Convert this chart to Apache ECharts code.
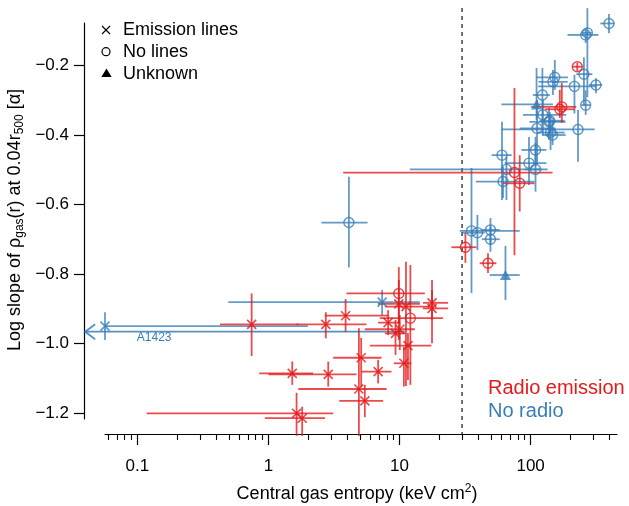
<!DOCTYPE html>
<html><head><meta charset="utf-8">
<script src="https://cdn.jsdelivr.net/npm/echarts@6/dist/echarts.min.js"></script>
<style>html,body{margin:0;padding:0;background:#fff}#chart{width:629px;height:506px}</style>
</head><body><div id="chart"></div>
<script>
// ---- DATA ----
// columns: entropy, entropyLow, entropyHigh, slope, slopeLow, slopeHigh
const linesRadio = [
  [9.88, 6.83, 14.3, -0.886, -0.990, -0.817],
  [11.2, 7.73, 17.0, -0.894, -1.122, -0.765],
  [17.7, 15.1, 23.5, -0.883, -0.999, -0.817],
  [17.7, 15.1, 23.5, -0.899, -0.932, -0.846],
  [3.88, 2.70, 8.19, -0.920, -0.966, -0.872],
  [2.74, 1.64, 5.60, -0.945, -0.985, -0.910],
  [8.19, 6.87, 10.05, -0.940, -0.976, -0.904],
  [10.05, 5.44, 13.1, -0.959, -1.019, -0.918],
  [9.32, 7.73, 11.0, -0.971, -1.033, -0.932],
  [11.6, 5.94, 17.5, -1.006, -1.105, -0.970],
  [10.8, 9.05, 12.3, -1.057, -1.124, -1.009],
  [5.10, 3.12, 7.29, -1.041, -1.125, -0.984],
  [6.87, 5.13, 8.69, -1.081, -1.115, -1.047],
  [2.86, 1.00, 4.70, -1.089, -1.124, -1.052],
  [4.90, 1.69, 7.96, -1.131, -1.266, -0.956],
  [5.44, 3.47, 7.50, -1.165, -1.212, -1.119],
  [0.745, 0.427, 1.69, -0.945, -1.036, -0.856],
  [1.52, 0.851, 2.19, -1.086, -1.119, -1.052],
  [1.64, 0.118, 3.12, -1.201, -1.266, -1.142],
  [1.81, 0.94, 2.70, -1.215, -1.266, -1.182]
];
const linesNoRadio = [
  [7.37, 0.494, 14.3, -0.881, -0.918, -0.846],
  [0.0567, 0.0567, 2.0, -0.950, -0.990, -0.910]   // A1423
];
const noLinesRadio = [
  [227, 208, 247, -0.2035, -0.216, -0.192],
  [173, 101, 223, -0.319, -0.365, -0.250],
  [167, 128, 217, -0.326, -0.351, -0.270],
  [75.3, 3.72, 147, -0.508, -0.746, -0.265],
  [82.6, 61.6, 107, -0.539, -0.620, -0.458],
  [31.8, 24.9, 38.6, -0.723, -0.768, -0.682],
  [47.3, 40.9, 54.8, -0.769, -0.797, -0.740],
  [9.88, 3.94, 15.6, -0.856, -0.940, -0.780],
  [12.1, 7.08, 21.5, -0.927, -1.119, -0.774]
];
const noLinesNoRadio = [
  [396, 340, 437, -0.079, -0.107, -0.052],
  [263, 191, 329, -0.112, -0.135, -0.092],
  [271, 245, 292, -0.106, -0.291, -0.035],
  [255, 223, 296, -0.225, -0.314, -0.176],
  [315, 279, 352, -0.256, -0.280, -0.237],
  [216, 114, 318, -0.260, -0.338, -0.227],
  [148, 115, 192, -0.247, -0.285, -0.213],
  [153, 111, 193, -0.234, -0.270, -0.184],
  [123, 104, 140, -0.285, -0.371, -0.207],
  [263, 244, 286, -0.314, -0.342, -0.271],
  [124, 87.5, 187, -0.342, -0.400, -0.299],
  [138, 98, 185, -0.362, -0.414, -0.322],
  [140, 117, 182, -0.359, -0.400, -0.334],
  [112, 82.6, 155, -0.381, -0.486, -0.299],
  [142, 113, 182, -0.393, -0.443, -0.342],
  [147, 122, 185, -0.400, -0.429, -0.357],
  [230, 59.9, 308, -0.384, -0.477, -0.328],
  [109, 85, 132, -0.443, -0.491, -0.405],
  [60.5, 50.5, 71.8, -0.458, -0.587, -0.362],
  [97.2, 63.5, 132, -0.481, -0.544, -0.406],
  [109, 90, 135, -0.499, -0.563, -0.423],
  [65.4, 12.0, 121, -0.499, -0.587, -0.462],
  [61.6, 38.2, 107, -0.534, -0.581, -0.491],
  [35.4, 28.8, 82.6, -0.676, -0.855, -0.495],
  [39.3, 30.4, 44.7, -0.681, -0.731, -0.630],
  [49.4, 42.4, 58.1, -0.673, -0.717, -0.639],
  [49.4, 42.4, 58.1, -0.700, -0.736, -0.659],
  [4.11, 2.54, 5.70, -0.652, -0.781, -0.520]
];
const unknownNoRadio = [
  [111, 59.9, 148, -0.312, -0.357, -0.207],
  [64.3, 48.8, 82.6, -0.803, -0.875, -0.719]
];
// A1423 upper-limit arrow: entropy from, entropy to (arrow tip), slope
const a1423Limit = [11.0, 0.04, -0.966];
const entropyThreshold = 30;
const xMajorTicks = [0.1, 1, 10, 100];
const xMajorLabels = ['0.1', '1', '10', '100'];
const xMinorTicks = [0.06, 0.07, 0.08, 0.09, 0.2, 0.3, 0.4, 0.5, 0.6, 0.7, 0.8, 0.9,
  2, 3, 4, 5, 6, 7, 8, 9, 20, 30, 40, 50, 60, 70, 80, 90, 200, 300, 400];
const yTicks = [-1.2, -1.0, -0.8, -0.6, -0.4, -0.2];
const xRange = [0.0567, 456];
const yRange = [-1.2173, -0.0777];

// ---- CHART ----
const FONT = '"Liberation Sans", Arial, sans-serif';
const RED = '#e41a1c', BLUE = '#377eb8';
const lg = Math.log10;
const chart = echarts.init(document.getElementById('chart'), null, {renderer: 'canvas'});
const GRID = {left: 105, right: 12, top: 23, bottom: 87};

function errSeries(rows, color) {
  return {
    type: 'custom', xAxisIndex: 0, yAxisIndex: 0, clip: false, silent: true, z: 2,
    data: rows.map(r => [lg(r[0]), lg(r[1]), lg(r[2]), r[3], r[4], r[5]]),
    encode: {x: [0, 1, 2], y: [3, 4, 5]},
    renderItem(params, api) {
      const c = api.coord([api.value(0), api.value(3)]);
      const x1 = api.coord([api.value(1), api.value(3)])[0];
      const x2 = api.coord([api.value(2), api.value(3)])[0];
      const y1 = api.coord([api.value(0), api.value(4)])[1];
      const y2 = api.coord([api.value(0), api.value(5)])[1];
      const style = {stroke: color, lineWidth: 1.8, opacity: 0.78};
      return {type: 'group', children: [
        {type: 'line', shape: {x1: x1, y1: c[1], x2: x2, y2: c[1]}, style: style},
        {type: 'line', shape: {x1: c[0], y1: y1, x2: c[0], y2: y2}, style: style}
      ]};
    }
  };
}
const CROSS = 'path://M0 0L10 10M10 0L0 10';
function markSeries(rows, color, kind) {
  const s = {
    type: 'scatter', silent: true, z: 5,
    data: rows.map(r => [lg(r[0]), r[3]]),
    symbolSize: 9
  };
  if (kind === 'cross') {
    s.symbol = CROSS; s.symbolSize = 9;
    s.itemStyle = {color: 'rgba(0,0,0,0)', borderColor: color, borderWidth: 1.6};
  } else if (kind === 'circle') {
    s.symbol = 'circle'; s.symbolSize = 10;
    s.itemStyle = {color: 'rgba(0,0,0,0)', borderColor: color, borderWidth: 1.4};
  } else {
    s.symbol = 'triangle'; s.symbolSize = [11, 10];
    s.itemStyle = {color: color};
  }
  return s;
}

const tickText = {fontFamily: FONT, fontSize: 17, color: '#000'};
const option = {
  animation: false,
  backgroundColor: '#fff',
  grid: [Object.assign({}, GRID), Object.assign({}, GRID)],
  xAxis: [{
    type: 'value', gridIndex: 0, min: lg(xRange[0]), max: lg(xRange[1]), offset: 15,
    axisLine: {show: true, onZero: false, lineStyle: {color: '#000', width: 1.2}},
    axisTick: {show: true, length: 11, customValues: xMajorTicks.map(lg), lineStyle: {color: '#000', width: 1.2}},
    axisLabel: Object.assign({
      customValues: xMajorTicks.map(lg), margin: 24,
      formatter: v => { const i = xMajorTicks.findIndex(t => Math.abs(lg(t) - v) < 1e-6); return i >= 0 ? xMajorLabels[i] : ''; }
    }, tickText),
    splitLine: {show: false}
  }, {
    type: 'value', gridIndex: 1, min: lg(xRange[0]), max: lg(xRange[1]), offset: 15,
    axisLine: {show: false, onZero: false},
    axisTick: {show: true, length: 6, customValues: xMinorTicks.map(lg), lineStyle: {color: '#000', width: 1.1}},
    axisLabel: {show: false}, splitLine: {show: false}
  }],
  yAxis: [{
    type: 'value', gridIndex: 0, min: yRange[0], max: yRange[1], offset: 21,
    axisLine: {show: true, onZero: false, lineStyle: {color: '#000', width: 1.2}},
    axisTick: {show: true, length: 10, customValues: yTicks, lineStyle: {color: '#000', width: 1.2}},
    axisLabel: Object.assign({
      customValues: yTicks, margin: 15,
      formatter: v => (v < 0 ? '\u2212' : '') + Math.abs(v).toFixed(1)
    }, tickText),
    splitLine: {show: false}
  }, {
    type: 'value', gridIndex: 1, min: yRange[0], max: yRange[1], show: false
  }],
  series: [
    {
      type: 'custom', clip: false, silent: true, z: 1,
      data: [[lg(entropyThreshold), -0.6]], encode: {x: 0, y: 1},
      renderItem(params, api) {
        const cs = params.coordSys;
        const x = api.coord([api.value(0), api.value(1)])[0];
        return {type: 'line', shape: {x1: x, y1: cs.y - 15, x2: x, y2: cs.y + cs.height + 15},
          style: {stroke: '#333', lineWidth: 1.4, lineDash: [4, 4]}};
      }
    },
    errSeries(noLinesNoRadio, BLUE),
    errSeries(unknownNoRadio, BLUE),
    errSeries(linesNoRadio, BLUE),
    {
      type: 'custom', clip: false, silent: true, z: 2,
      data: [[lg(a1423Limit[0]), lg(a1423Limit[1]), a1423Limit[2]]], encode: {x: [0, 1], y: 2},
      renderItem(params, api) {
        const from = api.coord([api.value(0), api.value(2)]);
        const tip = api.coord([api.value(1), api.value(2)]);
        const style = {stroke: BLUE, lineWidth: 1.8, opacity: 0.85, fill: null};
        return {type: 'group', children: [
          {type: 'line', shape: {x1: from[0], y1: from[1], x2: tip[0], y2: tip[1]}, style: style},
          {type: 'polyline', shape: {points: [[tip[0] + 10, tip[1] - 7.5], [tip[0], tip[1]], [tip[0] + 10, tip[1] + 7.5]]}, style: style},
          {type: 'text', x: tip[0] + 51.7, y: tip[1] + 6.5,
            style: {text: 'A1423', fill: BLUE, fontSize: 12, fontFamily: FONT, align: 'left', verticalAlign: 'middle'}}
        ]};
      }
    },
    errSeries(noLinesRadio, RED),
    errSeries(linesRadio, RED),
    markSeries(noLinesNoRadio, BLUE, 'circle'),
    markSeries(unknownNoRadio, BLUE, 'triangle'),
    markSeries(linesNoRadio, BLUE, 'cross'),
    markSeries(noLinesRadio, RED, 'circle'),
    markSeries(linesRadio, RED, 'cross')
  ],
  graphic: [
    // symbol legend
    {type: 'line', shape: {x1: 102, y1: 26, x2: 110, y2: 34}, style: {stroke: '#000', lineWidth: 1.1}},
    {type: 'line', shape: {x1: 110, y1: 26, x2: 102, y2: 34}, style: {stroke: '#000', lineWidth: 1.1}},
    {type: 'circle', shape: {cx: 106, cy: 51.7, r: 4}, style: {fill: null, stroke: '#000', lineWidth: 1.2}},
    {type: 'polygon', shape: {points: [[106.5, 68.5], [111.7, 77], [101.3, 77]]}, style: {fill: '#000'}},
    {type: 'text', x: 123, y: 30, style: {text: 'Emission lines', fontSize: 18, fontFamily: FONT, fill: '#000', verticalAlign: 'middle'}},
    {type: 'text', x: 123, y: 52, style: {text: 'No lines', fontSize: 18, fontFamily: FONT, fill: '#000', verticalAlign: 'middle'}},
    {type: 'text', x: 123, y: 74, style: {text: 'Unknown', fontSize: 18, fontFamily: FONT, fill: '#000', verticalAlign: 'middle'}},
    // colour legend
    {type: 'text', x: 488, y: 388, style: {text: 'Radio emission', fontSize: 20, fontFamily: FONT, fill: RED, verticalAlign: 'middle'}},
    {type: 'text', x: 488, y: 411, style: {text: 'No radio', fontSize: 20, fontFamily: FONT, fill: BLUE, verticalAlign: 'middle'}},
    // axis titles
    {type: 'text', x: 357, y: 494, style: {
      text: 'Central gas entropy (keV cm{sup|2})', fontSize: 18, fontFamily: FONT, fill: '#000',
      align: 'center', verticalAlign: 'middle',
      rich: {sup: {fontSize: 12, fontFamily: FONT, padding: [0, 0, 10, 0]}}
    }},
    {type: 'text', x: 15, y: 220, rotation: Math.PI / 2, style: {
      text: 'Log slope of \u03c1{sub|gas}(r) at 0.04r{sub|500} [\u03b1]', fontSize: 18, fontFamily: FONT, fill: '#000',
      align: 'center', verticalAlign: 'middle',
      rich: {sub: {fontSize: 12, fontFamily: FONT, padding: [9, 0, 0, 0]}}
    }}
  ]
};
chart.setOption(option);
</script>
</body></html>
